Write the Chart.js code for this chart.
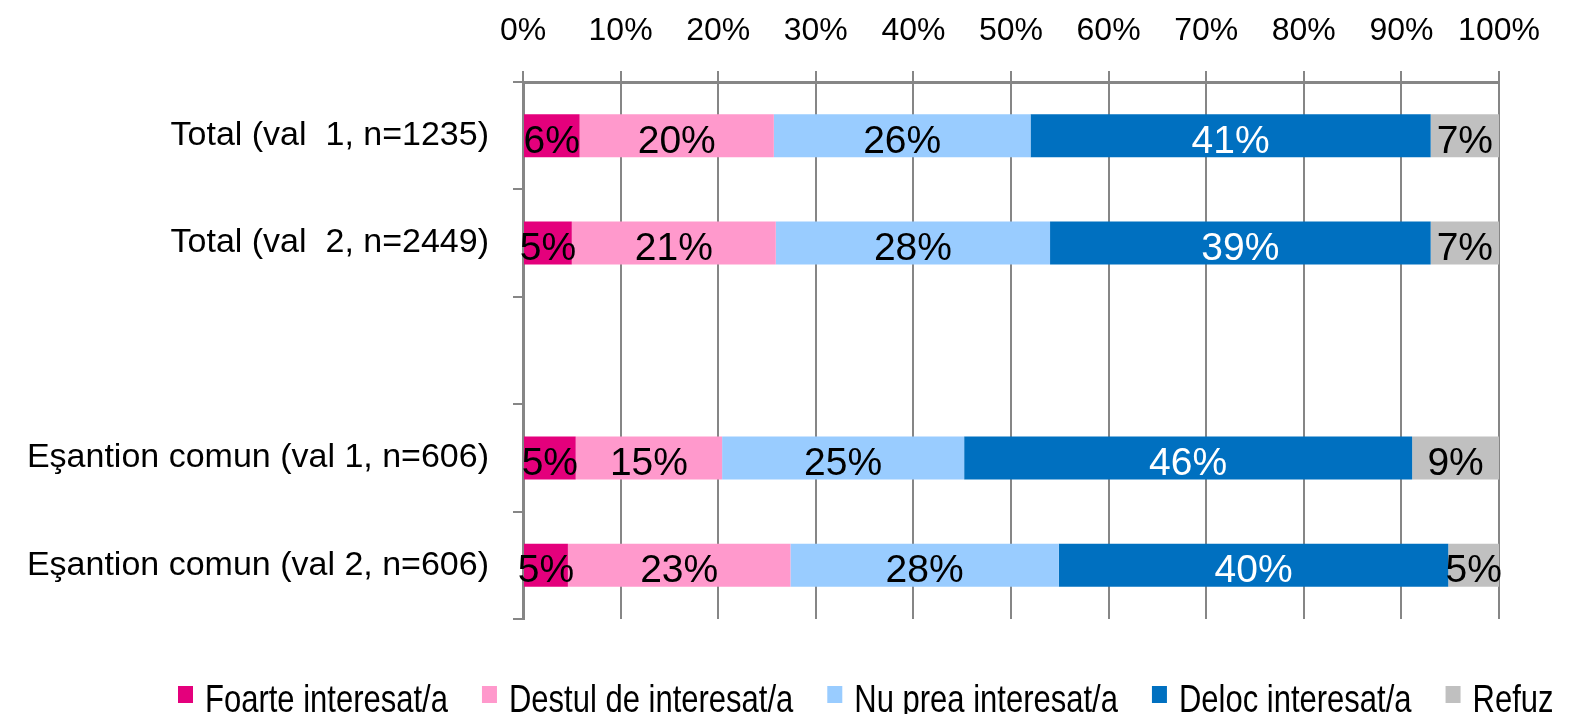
<!DOCTYPE html>
<html>
<head>
<meta charset="utf-8">
<script src="https://cdn.jsdelivr.net/npm/chart.js@4.4.1/dist/chart.umd.min.js"></script>
<style>
  html, body { margin: 0; padding: 0; background: #ffffff; overflow: hidden; }
  #wrap { width: 1571px; height: 714px; }
</style>
</head>
<body>
<div id="wrap"><canvas id="c" width="1571" height="714"></canvas></div>
<script>
// ---- data ----
const categories = ['Total (val  1, n=1235)', 'Total (val  2, n=2449)', '', 'Eşantion comun (val 1, n=606)', 'Eşantion comun (val 2, n=606)'];
const seriesNames = ['Foarte interesat/a', 'Destul de interesat/a', 'Nu prea interesat/a', 'Deloc interesat/a', 'Refuz'];
const foarte  = [5.8, 5.0, null, 5.4, 4.6];
const destul  = [19.9, 20.9, null, 15.0, 22.8];
const nuPrea  = [26.3, 28.1, null, 24.8, 27.5];
const deloc   = [41.0, 39.0, null, 45.9, 39.9];
const refuz   = [7.0, 7.0, null, 8.9, 5.2];
const xTicks  = [0, 10, 20, 30, 40, 50, 60, 70, 80, 90, 100];

const colors = ['#E4007C', '#FF99CC', '#99CCFF', '#0070C0', '#C0C0C0'];
const labelColors = ['#000000', '#000000', '#000000', '#FFFFFF', '#000000'];
const FONT = "'Liberation Sans', Arial, sans-serif";
const GRID = '#868686';

const seriesValues = [foarte, destul, nuPrea, deloc, refuz];

const datasets = seriesValues.map((vals, i) => ({
  label: seriesNames[i],
  data: vals,
  backgroundColor: colors[i],
  borderWidth: 0,
  barPercentage: 0.8,
  categoryPercentage: 0.5
}));

const valueLabels = {
  id: 'valueLabels',
  afterDatasetsDraw(chart) {
    const ctx = chart.ctx;
    const size = 39;
    ctx.save();
    ctx.font = size + 'px ' + FONT;
    ctx.textAlign = 'center';
    ctx.textBaseline = 'alphabetic';
    chart.data.datasets.forEach((ds, di) => {
      const meta = chart.getDatasetMeta(di);
      meta.data.forEach((el, i) => {
        const v = ds.data[i];
        if (v === null || v === undefined) return;
        const cx = (el.x + el.base) / 2;
        const cy = el.y + 0.716 * size / 2 + 3;
        ctx.fillStyle = labelColors[di];
        ctx.fillText(Math.round(v) + '%', cx, cy);
      });
    });
    ctx.restore();
  }
};

const customLegend = {
  id: 'customLegend',
  afterDraw(chart) {
    const ctx = chart.ctx;
    const size = 31;
    ctx.save();
    ctx.font = size + 'px ' + FONT;
    ctx.textAlign = 'left';
    ctx.textBaseline = 'alphabetic';
    let x = 178;
    const boxTop = 686;
    const baseline = 712;
    chart.data.datasets.forEach((ds, i) => {
      ctx.fillStyle = ds.backgroundColor;
      ctx.fillRect(x, boxTop, 15, 17);
      const tx = x + 27;
      const w = ctx.measureText(ds.label).width;
      ctx.save();
      ctx.translate(tx, baseline);
      ctx.scale(1, 1.25);
      ctx.fillStyle = '#000000';
      ctx.fillText(ds.label, 0, 0);
      ctx.restore();
      x = tx + w + 34;
    });
    ctx.restore();
  }
};

new Chart(document.getElementById('c'), {
  type: 'bar',
  data: { labels: categories, datasets },
  options: {
    indexAxis: 'y',
    responsive: false,
    devicePixelRatio: 1,
    animation: false,
    layout: { padding: { left: 0, right: 72, top: 0, bottom: 95 } },
    plugins: {
      legend: { display: false },
      tooltip: { enabled: false }
    },
    scales: {
      x: {
        position: 'top',
        stacked: true,
        min: 0,
        max: 100,
        afterBuildTicks: (scale) => { scale.ticks = xTicks.map(v => ({ value: v })); },
        afterFit: (scale) => { scale.height = 82; },
        ticks: {
          callback: (v) => v + '%',
          color: '#000000',
          font: { family: FONT, size: 32 },
          padding: 21,
          maxRotation: 0,
          autoSkip: false
        },
        grid: { color: GRID, lineWidth: 2, tickLength: 11, drawTicks: true },
        border: { color: GRID, width: 3 }
      },
      y: {
        stacked: true,
        afterFit: (scale) => { scale.width = 523; },
        ticks: {
          color: '#000000',
          font: { family: FONT, size: 34 },
          padding: 24,
          autoSkip: false
        },
        grid: { color: GRID, lineWidth: 2, tickLength: 10, drawOnChartArea: false, offset: true },
        border: { color: GRID, width: 3 }
      }
    }
  },
  plugins: [valueLabels, customLegend]
});
</script>
</body>
</html>
